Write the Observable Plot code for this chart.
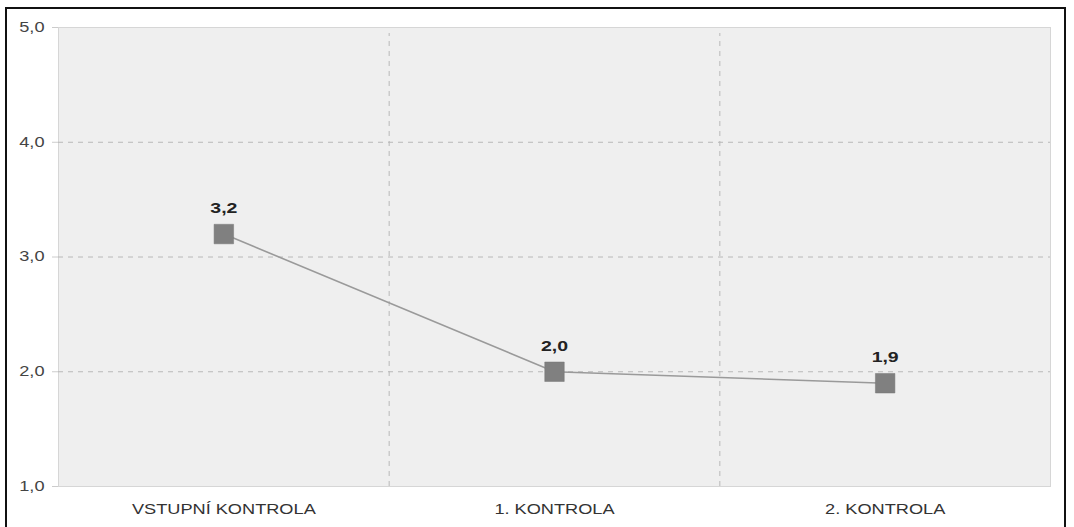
<!DOCTYPE html>
<html>
<head>
<meta charset="utf-8">
<script src="https://cdn.jsdelivr.net/npm/d3@7"></script>
<script src="https://cdn.jsdelivr.net/npm/@observablehq/plot@0.6"></script>
<style>
  html, body { margin: 0; padding: 0; background: #fff; }
  #wrap { position: relative; width: 1074px; height: 527px; overflow: hidden; }
  #box {
    position: absolute; left: 5px; top: 7px; width: 1061px; height: 540px;
    border: 2px solid #111; box-sizing: border-box; pointer-events: none;
  }
  #chart svg { display: block; }
</style>
</head>
<body>
<div id="wrap">
  <div id="chart"></div>
  <div id="box"></div>
</div>
<script>
// Control stages and their average scores
const stages = ["VSTUPNÍ KONTROLA", "1. KONTROLA", "2. KONTROLA"];
const scores = [3.2, 2.0, 1.9];
const yTicks = [1, 2, 3, 4, 5];

const rows = stages.map((s, i) => ({stage: s, pos: i + 0.5, score: scores[i]}));
const comma = d => d.toFixed(1).replace(".", ",");

const chart = Plot.plot({
  width: 1074,
  height: 527,
  marginLeft: 58,
  marginRight: 24,
  marginTop: 27,
  marginBottom: 41,
  style: {fontFamily: "'Liberation Sans', Arial, sans-serif", fontSize: "14px", color: "#333", background: "transparent"},
  x: {domain: [0, stages.length], axis: null},
  y: {domain: [1, 5], axis: null},
  marks: [
    Plot.frame({fill: "#efefef", stroke: "#d6d6d6"}),
    // horizontal dashed gridlines
    Plot.ruleY(yTicks.slice(1, -1), {stroke: "#b8b8b8", strokeDasharray: "5,5"}),
    // vertical dashed separators between stages, reaching just below the axis
    Plot.ruleX(d3.range(1, stages.length), {y1: 1, y2: 5, insetBottom: -6, stroke: "#b8b8b8", strokeDasharray: "5,5"}),
    Plot.ruleX([stages.length], {y1: 1, y2: 5, insetBottom: -6, stroke: "#d6d6d6"}),
    Plot.axisY({ticks: yTicks, tickFormat: comma, tickSize: 6, tickPadding: 8, stroke: "#cccccc", color: "#444", fontSize: 14, label: null}),
    Plot.axisX({ticks: rows.map(d => d.pos), tickFormat: (d, i) => stages[i], tickSize: 0, tickPadding: 18, color: "#333", fontSize: 14, label: null}),
    Plot.line(rows, {x: "pos", y: "score", stroke: "#9a9a9a", strokeWidth: 1.6}),
    Plot.dot(rows, {x: "pos", y: "score", symbol: "square", r: 11, fill: "#808080", stroke: "#777", strokeWidth: 0.5}),
    Plot.text(rows, {x: "pos", y: "score", text: d => comma(d.score), dy: -26, fontWeight: "bold", fontSize: 15, fill: "#222"})
  ]
});

// Widen the lettering horizontally around each label's anchor point
chart.querySelectorAll('g[aria-label="x-axis tick label"] text, g[aria-label="y-axis tick label"] text, g[aria-label="text"] text')
  .forEach(t => {
    let tr = t.getAttribute("transform") || "";
    const x = parseFloat(t.getAttribute("x"));
    if (Number.isFinite(x) && x !== 0 && !/em$/.test(t.getAttribute("x"))) {
      tr += ` translate(${x},0)`;
      t.removeAttribute("x");
    }
    t.setAttribute("transform", `${tr} scale(1.3,1)`.trim());
  });

document.getElementById("chart").append(chart);
</script>
</body>
</html>
